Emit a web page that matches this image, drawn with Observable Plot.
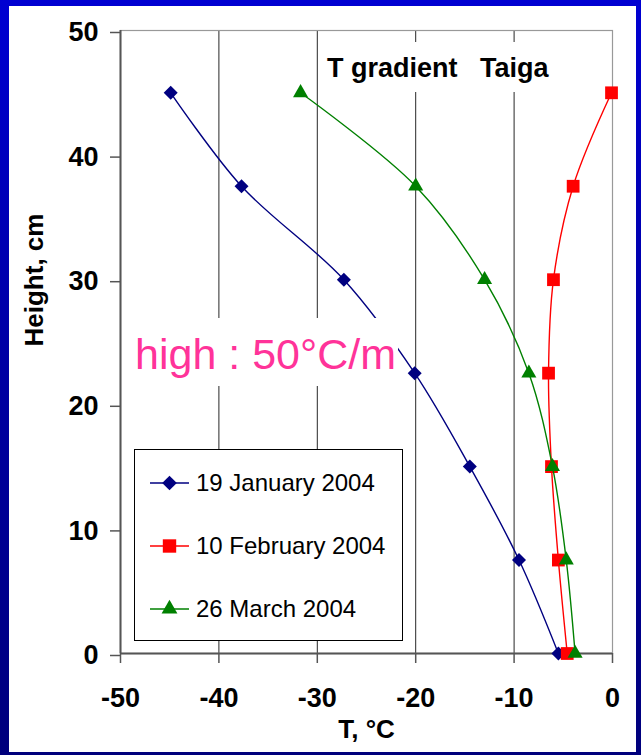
<!DOCTYPE html>
<html>
<head>
<meta charset="utf-8">
<script src="https://cdn.jsdelivr.net/npm/d3@7"></script>
<script src="https://cdn.jsdelivr.net/npm/@observablehq/plot@0.6"></script>
<style>
  html, body { margin: 0; padding: 0; }
  body {
    width: 641px; height: 755px; overflow: hidden; position: relative;
    background: linear-gradient(to bottom, #0000d2 0%, #0000a6 45%, #00007c 100%);
    font-family: "Liberation Sans", Arial, sans-serif;
  }
  #panel { position: absolute; left: 9px; top: 6px; width: 627px; height: 746px; background: #fff; }
  #chart { position: absolute; left: 0; top: 0; }
  .note { position: absolute; background: #fff; white-space: pre; }
  #title { left: 322px; top: 42px; width: 240px; height: 50px; font-size: 27px; font-weight: bold; line-height: 52px; color: #000; padding-left: 5px; box-sizing: border-box; }
  #high { left: 130px; top: 318px; width: 268px; height: 68px; font-size: 43px; line-height: 72px; color: #ff3399; padding-left: 5px; box-sizing: border-box; overflow: hidden; }
  #legend { position: absolute; left: 134px; top: 449px; width: 269px; height: 192px; box-sizing: border-box; border: 1px solid #000; background: #fff; }
  .entry { position: absolute; left: 0; height: 30px; display: flex; align-items: center; font-size: 24px; color: #000; white-space: nowrap; }
  .entry svg { display: block; margin-left: 15px; margin-right: 6px; }
</style>
</head>
<body>
<div id="panel"></div>
<div id="chart"></div>
<script>
// ---- data ----
const heights = [0, 7.5, 15, 22.5, 30, 37.5, 45];
const seriesNames = ["19 January 2004", "10 February 2004", "26 March 2004"];
const tJanuary  = [-5.5, -9.5, -14.5, -20.1, -27.3, -37.7, -44.9];
const tFebruary = [-4.6, -5.5, -6.2, -6.5, -6.0, -4.0, -0.1];
const tMarch    = [-3.8, -4.7, -6.1, -8.5, -13.0, -20.0, -31.7];
const seriesColors = ["#000080", "#ff0000", "#008000"];
const seriesSymbols = ["diamond2", "square", "triangle"];
const seriesRadius = [6.3, 7.2, 5.6];
const xTicks = [-50, -40, -30, -20, -10, 0];
const yTicks = [0, 10, 20, 30, 40, 50];
const gridTicks = [-40, -30, -20, -10];
const xLabel = "T, °C";
const yLabel = "Height, cm";
const titleText = "T gradient   Taiga";
const noteText = "high : 50°C/m";

const seriesValues = [tJanuary, tFebruary, tMarch];
const rows = seriesNames.flatMap((name, i) =>
  heights.map((h, j) => ({series: name, h, T: seriesValues[i][j]})));

const seriesMarks = seriesNames.flatMap((name, i) => {
  const d = rows.filter(r => r.series === name);
  return [
    Plot.line(d, {x: "T", y: "h", stroke: seriesColors[i], strokeWidth: 1.4, curve: "catmull-rom"}),
    Plot.dot(d, {x: "T", y: "h", symbol: () => seriesSymbols[i], fill: seriesColors[i], stroke: "none", r: seriesRadius[i]})
  ];
});

const fmt = d => String(d); // plain hyphen-minus like the original

const chart = Plot.plot({
  width: 641,
  height: 755,
  marginLeft: 120,
  marginRight: 29,
  marginTop: 30,
  marginBottom: 102,
  style: {background: "transparent", fontFamily: "'Liberation Sans', Arial, sans-serif", fontWeight: "bold", color: "#000", overflow: "visible"},
  x: {domain: [-50, 0]},
  y: {domain: [0, 50]},
  symbol: {type: "identity"},
  marks: [
    Plot.gridX(gridTicks, {stroke: "#000", strokeOpacity: 0.85, strokeWidth: 1}),
    Plot.frame({stroke: "#999", strokeWidth: 1.2}),
    Plot.ruleX([-50], {stroke: "#555", strokeWidth: 2}),
    Plot.ruleY([0], {stroke: "#555", strokeWidth: 2}),
    Plot.axisY(yTicks, {anchor: "left", tickSize: 10, tickPadding: 12, fontSize: 27, stroke: "#555", strokeWidth: 1.5, fill: "#000", dy: 2, tickFormat: fmt, label: null}),
    Plot.axisX(xTicks, {anchor: "bottom", tickSize: 10, tickPadding: 24, fontSize: 27, stroke: "#555", strokeWidth: 1.5, fill: "#000", tickFormat: fmt, label: null}),
    Plot.text([yLabel], {frameAnchor: "left", rotate: -90, dx: -86, dy: 4.5, fontSize: 26, fill: "#000", lineAnchor: "middle"}),
    Plot.text([xLabel], {frameAnchor: "bottom", dy: 76, fontSize: 26, fill: "#000", lineAnchor: "middle"}),
    ...seriesMarks
  ]
});
document.getElementById("chart").appendChild(chart);

// annotations (white boxes over the plot)
const title = document.createElement("div");
title.className = "note"; title.id = "title"; title.textContent = titleText;
document.body.appendChild(title);
const high = document.createElement("div");
high.className = "note"; high.id = "high"; high.textContent = noteText;
document.body.appendChild(high);

// legend built from the series arrays
const legend = document.createElement("div");
legend.id = "legend";
const rowTops = [33, 96, 159];
seriesNames.forEach((name, i) => {
  const e = document.createElement("div");
  e.className = "entry";
  e.style.top = (rowTops[i] - 15) + "px";
  const s = d3.create("svg").attr("width", 40).attr("height", 30);
  s.append("line").attr("x1", 0).attr("x2", 39).attr("y1", 15).attr("y2", 15)
    .attr("stroke", seriesColors[i]).attr("stroke-width", 1.4);
  const symType = {diamond2: d3.symbolDiamond2, square: d3.symbolSquare, triangle: d3.symbolTriangle}[seriesSymbols[i]];
  s.append("path").attr("transform", "translate(19.5,15)")
    .attr("d", d3.symbol(symType, seriesRadius[i] * seriesRadius[i] * Math.PI * 1.1)())
    .attr("fill", seriesColors[i]);
  e.appendChild(s.node());
  const t = document.createElement("span");
  t.textContent = name;
  e.appendChild(t);
  legend.appendChild(e);
});
document.body.appendChild(legend);
</script>
</body>
</html>
